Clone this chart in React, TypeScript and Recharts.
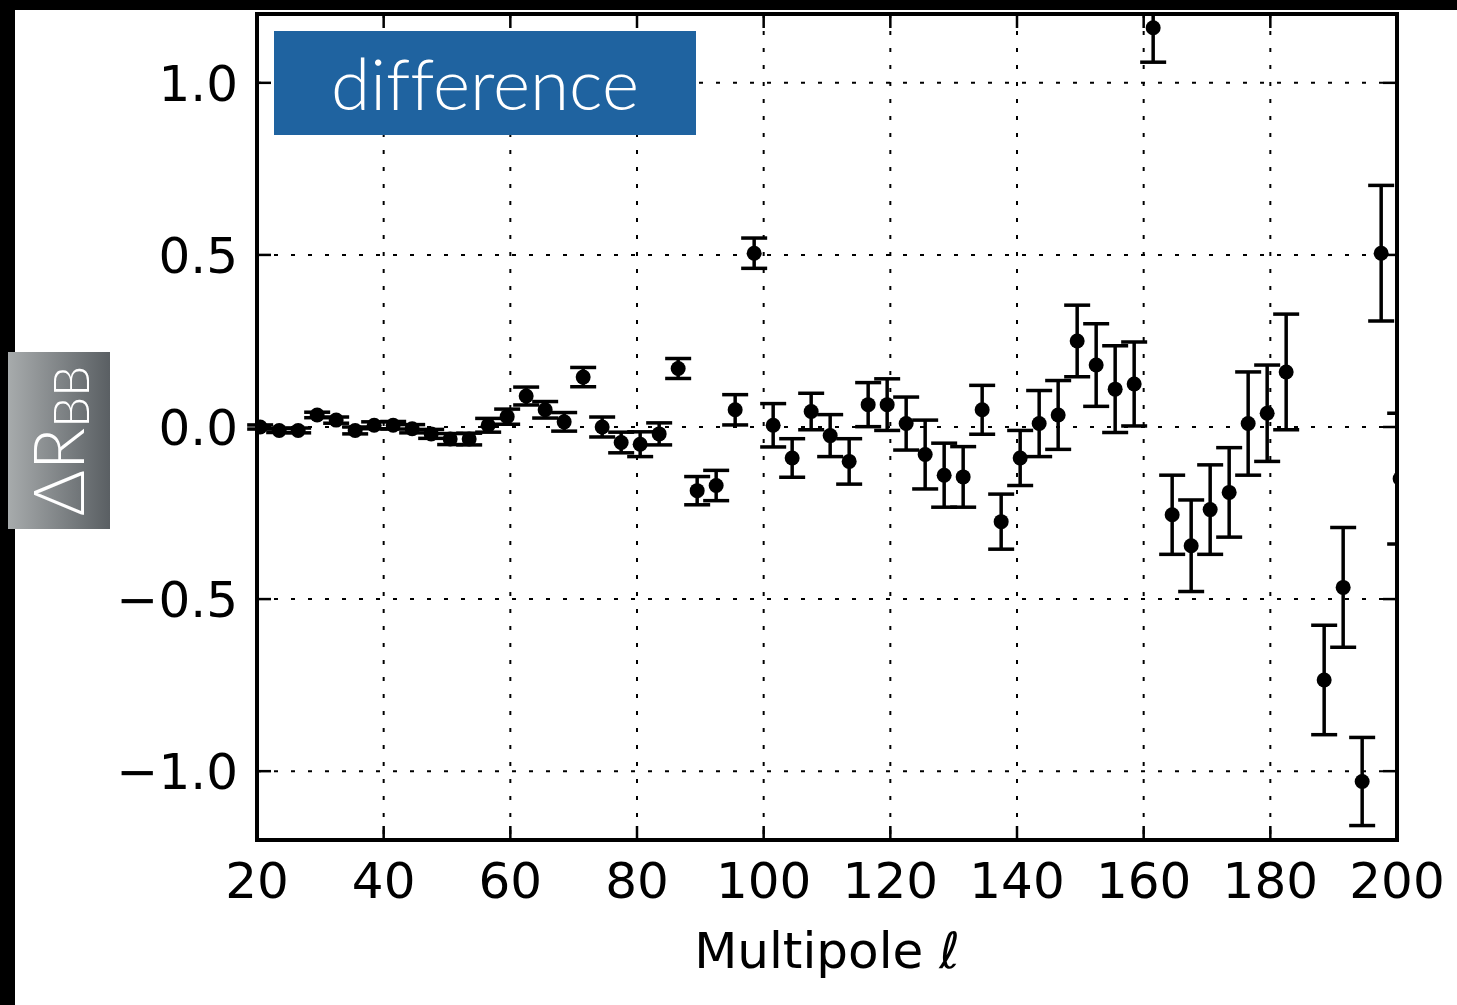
import { ComposedChart, Scatter, ErrorBar, XAxis, YAxis, CartesianGrid } from "recharts";

// multipole bin centres (bin at 185.5 lies off the plot and is not shown)
const ELL = [
  20.5, 23.5, 26.5, 29.5, 32.5, 35.5, 38.5, 41.5, 44.5, 47.5,
  50.5, 53.5, 56.5, 59.5, 62.5, 65.5, 68.5, 71.5, 74.5, 77.5,
  80.5, 83.5, 86.5, 89.5, 92.5, 95.5, 98.5, 101.5, 104.5, 107.5,
  110.5, 113.5, 116.5, 119.5, 122.5, 125.5, 128.5, 131.5, 134.5, 137.5,
  140.5, 143.5, 146.5, 149.5, 152.5, 155.5, 158.5, 161.5, 164.5, 167.5,
  170.5, 173.5, 176.5, 179.5, 182.5, 188.5, 191.5, 194.5, 197.5, 200.5,
];

const DELTA = [
  0.0, -0.01, -0.01, 0.035, 0.02, -0.01, 0.005, 0.005, -0.005, -0.02,
  -0.035, -0.035, 0.005, 0.03, 0.09, 0.05, 0.015, 0.145, 0.0, -0.045,
  -0.05, -0.02, 0.17, -0.185, -0.17, 0.05, 0.505, 0.005, -0.09, 0.045,
  -0.025, -0.1, 0.065, 0.065, 0.01, -0.08, -0.14, -0.145, 0.05, -0.275,
  -0.09, 0.01, 0.035, 0.25, 0.18, 0.11, 0.125, 1.16, -0.255, -0.345,
  -0.24, -0.19, 0.01, 0.04, 0.16, -0.735, -0.466, -1.03, 0.505, -0.15,
];

const ERR = [
  0.006, 0.006, 0.007, 0.008, 0.009, 0.01, 0.01, 0.011, 0.012, 0.013,
  0.016, 0.017, 0.02, 0.022, 0.026, 0.024, 0.027, 0.028, 0.029, 0.03,
  0.036, 0.032, 0.029, 0.041, 0.044, 0.044, 0.044, 0.063, 0.056, 0.053,
  0.061, 0.066, 0.064, 0.075, 0.077, 0.1, 0.093, 0.088, 0.071, 0.08,
  0.08, 0.096, 0.1, 0.104, 0.12, 0.126, 0.122, 0.1, 0.115, 0.133,
  0.13, 0.13, 0.15, 0.14, 0.168, 0.159, 0.174, 0.128, 0.197, 0.19,
];

const X_TICKS = [20, 40, 60, 80, 100, 120, 140, 160, 180, 200];
const Y_TICKS = [-1.0, -0.5, 0.0, 0.5, 1.0];

const data = ELL.map((ell, i) => ({ ell, d: DELTA[i], err: ERR[i] }));

const W = 1457;
const H = 1005;
const PLOT_LEFT = 257;
const PLOT_RIGHT = 1397;
const PLOT_TOP = 14;
const PLOT_BOTTOM = 840;
const TICK = 14;
const FONT = "'DejaVu Sans', sans-serif";
const TAG_FONT = "Lato, 'Open Sans', sans-serif";

function XTick(props: any) {
  const { x, payload } = props;
  return (
    <g>
      <line x1={x} x2={x} y1={PLOT_BOTTOM} y2={PLOT_BOTTOM - TICK} stroke="#000" strokeWidth={2.5} />
      <line x1={x} x2={x} y1={PLOT_TOP} y2={PLOT_TOP + TICK} stroke="#000" strokeWidth={2.5} />
      <text x={x} y={PLOT_BOTTOM + 58} textAnchor="middle" fontSize={50} fontFamily={FONT} fill="#000">
        {payload.value}
      </text>
    </g>
  );
}

function YTick(props: any) {
  const { y, payload } = props;
  const v: number = payload.value;
  const label = (v < 0 ? "\u2212" : "") + Math.abs(v).toFixed(1);
  return (
    <g>
      <line x1={PLOT_LEFT} x2={PLOT_LEFT + TICK} y1={y} y2={y} stroke="#000" strokeWidth={2.5} />
      <line x1={PLOT_RIGHT} x2={PLOT_RIGHT - TICK} y1={y} y2={y} stroke="#000" strokeWidth={2.5} />
      <text x={238} y={y + 18} textAnchor="end" fontSize={50} fontFamily={FONT} fill="#000">
        {label}
      </text>
    </g>
  );
}

function Dot(props: any) {
  const { cx, cy } = props;
  return <circle cx={cx} cy={cy} r={7.5} fill="#000" />;
}

export default function App() {
  return (
    <div style={{ position: "absolute", left: 0, top: 0, width: W, height: H, background: "#fff" }}>
      <ComposedChart
        width={W}
        height={H}
        data={data}
        margin={{ top: PLOT_TOP, right: W - PLOT_RIGHT, bottom: 0, left: 0 }}
      >
        <CartesianGrid stroke="#000" strokeWidth={2} strokeDasharray="4 13" />
        <XAxis
          type="number"
          dataKey="ell"
          domain={[20, 200]}
          ticks={X_TICKS}
          allowDataOverflow
          height={H - PLOT_BOTTOM}
          axisLine={false}
          tickLine={false}
          tick={<XTick />}
          label={{
            content: () => (
              <text x={(PLOT_LEFT + PLOT_RIGHT) / 2} y={968} textAnchor="middle" fontSize={50} fontFamily={FONT} fill="#000">
                Multipole {"\u2113"}
              </text>
            ),
          }}
        />
        <YAxis
          type="number"
          domain={[-1.2, 1.2]}
          ticks={Y_TICKS}
          allowDataOverflow
          width={PLOT_LEFT}
          axisLine={false}
          tickLine={false}
          tick={<YTick />}
        />
        <Scatter dataKey="d" fill="#000" shape={<Dot />} isAnimationActive={false}>
          <ErrorBar dataKey="err" direction="y" width={13} stroke="#000" strokeWidth={3.5} isAnimationActive={false} />
        </Scatter>
      </ComposedChart>

      {/* keep marks inside the frame */}
      <div style={{ position: "absolute", left: PLOT_RIGHT + 1, top: 0, width: W - PLOT_RIGHT - 1, height: PLOT_BOTTOM + 2, background: "#fff" }} />
      <div style={{ position: "absolute", left: PLOT_LEFT, top: 0, width: PLOT_RIGHT - PLOT_LEFT, height: PLOT_TOP, background: "#fff" }} />

      {/* frame */}
      <svg style={{ position: "absolute", left: 0, top: 0 }} width={W} height={H}>
        <rect x={PLOT_LEFT} y={PLOT_TOP} width={PLOT_RIGHT - PLOT_LEFT} height={PLOT_BOTTOM - PLOT_TOP} fill="none" stroke="#000" strokeWidth={4} />
      </svg>

      {/* crop edges */}
      <div style={{ position: "absolute", left: 0, top: 0, width: W, height: 10, background: "#000" }} />
      <div style={{ position: "absolute", left: 0, top: 0, width: 15, height: H, background: "#000" }} />

      {/* panel tag */}
      <div style={{ position: "absolute", left: 274, top: 31, width: 422, height: 104, background: "#1f63a0" }}>
        <svg width={422} height={104}>
          <text
            x={211}
            y={79}
            textAnchor="middle"
            fill="#fff"
            fontSize={71}
            fontFamily={TAG_FONT}
            fontWeight={300}
            style={{ fontVariantLigatures: "none" }}
          >
            difference
          </text>
        </svg>
      </div>

      {/* y label */}
      <div
        style={{
          position: "absolute",
          left: 8,
          top: 352,
          width: 102,
          height: 177,
          background: "linear-gradient(to right, #a7abac, #5a5f63)",
        }}
      >
        <svg width={102} height={177}>
          <text transform="translate(76,164) rotate(-90)" fill="#fff" fontSize={70} fontFamily={TAG_FONT} fontWeight={300}>
            {"\u0394R"}
            <tspan fontSize={49} dy={5}>BB</tspan>
          </text>
        </svg>
      </div>
    </div>
  );
}
